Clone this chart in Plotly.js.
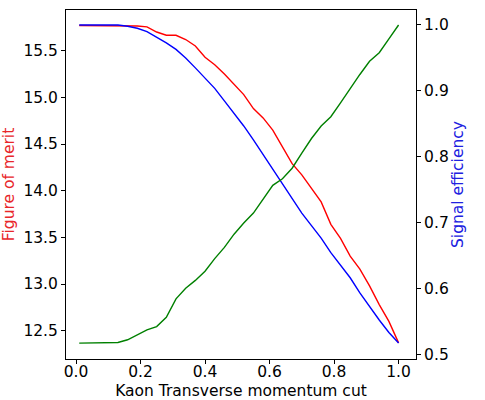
<!DOCTYPE html>
<html>
<head>
<meta charset="utf-8">
<script src="https://cdn.plot.ly/plotly-3.0.1.min.js"></script>
<style>html,body{margin:0;padding:0;background:#fff;}#chart{width:485px;height:400px;}</style>
</head>
<body>
<div id="chart"></div>
<script>
const cutValues = [0.01,0.04,0.07,0.10,0.13,0.16,0.19,0.22,0.25,0.28,0.31,0.34,0.37,0.40,0.43,0.46,0.49,0.52,0.55,0.58,0.61,0.64,0.67,0.70,0.73,0.76,0.79,0.82,0.85,0.88,0.91,0.94,0.97,1.00];
const figureOfMerit = [15.77,15.77,15.77,15.77,15.77,15.768,15.765,15.755,15.70,15.666,15.665,15.62,15.55,15.43,15.35,15.25,15.14,15.03,14.88,14.78,14.65,14.47,14.29,14.17,14.02,13.88,13.64,13.49,13.30,13.16,12.98,12.78,12.60,12.37];
const signalEfficiency = [1.0,1.0,1.0,1.0,1.0,0.998,0.995,0.990,0.982,0.973,0.963,0.950,0.935,0.920,0.904,0.885,0.866,0.847,0.826,0.804,0.781,0.761,0.737,0.715,0.696,0.677,0.655,0.636,0.617,0.594,0.573,0.553,0.534,0.518];
const backgroundRejection = [0.518,0.518,0.518,0.518,0.519,0.523,0.530,0.538,0.543,0.557,0.585,0.601,0.613,0.627,0.646,0.663,0.683,0.700,0.715,0.736,0.757,0.767,0.783,0.806,0.828,0.847,0.861,0.882,0.904,0.925,0.945,0.958,0.979,1.000];
const xTicks = [0.0,0.2,0.4,0.6,0.8,1.0];
const leftTicks = [12.5,13.0,13.5,14.0,14.5,15.0,15.5];
const rightTicks = [0.5,0.6,0.7,0.8,0.9,1.0];

const fnt = {family: "DejaVu Sans", size: 15.5, color: "#000"};
const traces = [
  {x: cutValues, y: figureOfMerit, type: "scatter", mode: "lines", line: {color: "#ff0000", width: 1.4}, yaxis: "y"},
  {x: cutValues, y: signalEfficiency, type: "scatter", mode: "lines", line: {color: "#0000ff", width: 1.4}, yaxis: "y2"},
  {x: cutValues, y: backgroundRejection, type: "scatter", mode: "lines", line: {color: "#008000", width: 1.4}, yaxis: "y2"}
];
const layout = {
  width: 485, height: 400,
  margin: {l: 66, r: 69, t: 10, b: 41},
  paper_bgcolor: "#fff", plot_bgcolor: "#fff",
  showlegend: false,
  font: fnt,
  xaxis: {
    range: [-0.031, 1.054], tickvals: xTicks, ticktext: xTicks.map(v => v.toFixed(1)),
    showgrid: false, zeroline: false, showline: true, mirror: true, linecolor: "#000", linewidth: 1,
    ticks: "outside", ticklen: 4, tickcolor: "#000", tickfont: fnt, ticklabelstandoff: -6,
    title: {text: "Kaon Transverse momentum cut", font: fnt, standoff: 6}
  },
  yaxis: {
    range: [12.197, 15.936], tickvals: leftTicks, ticktext: leftTicks.map(v => v.toFixed(1)),
    showgrid: false, zeroline: false, showline: true, linecolor: "#000", linewidth: 1,
    ticks: "outside", ticklen: 4, tickcolor: "#000", tickfont: fnt,
    title: {text: "Figure of merit", font: {family: "DejaVu Sans", size: 15.5, color: "#e8262a"}, standoff: 6}
  },
  yaxis2: {
    overlaying: "y", side: "right",
    range: [0.4939, 1.0227], tickvals: rightTicks, ticktext: rightTicks.map(v => v.toFixed(1)),
    showgrid: false, zeroline: false, showline: true, linecolor: "#000", linewidth: 1,
    ticks: "outside", ticklen: 4, tickcolor: "#000", tickfont: fnt,
    title: {text: "Signal efficiency", font: {family: "DejaVu Sans", size: 15.5, color: "#2020e0"}, standoff: 1}
  }
};
Plotly.newPlot("chart", traces, layout, {displayModeBar: false, staticPlot: true});
</script>
</body>
</html>
